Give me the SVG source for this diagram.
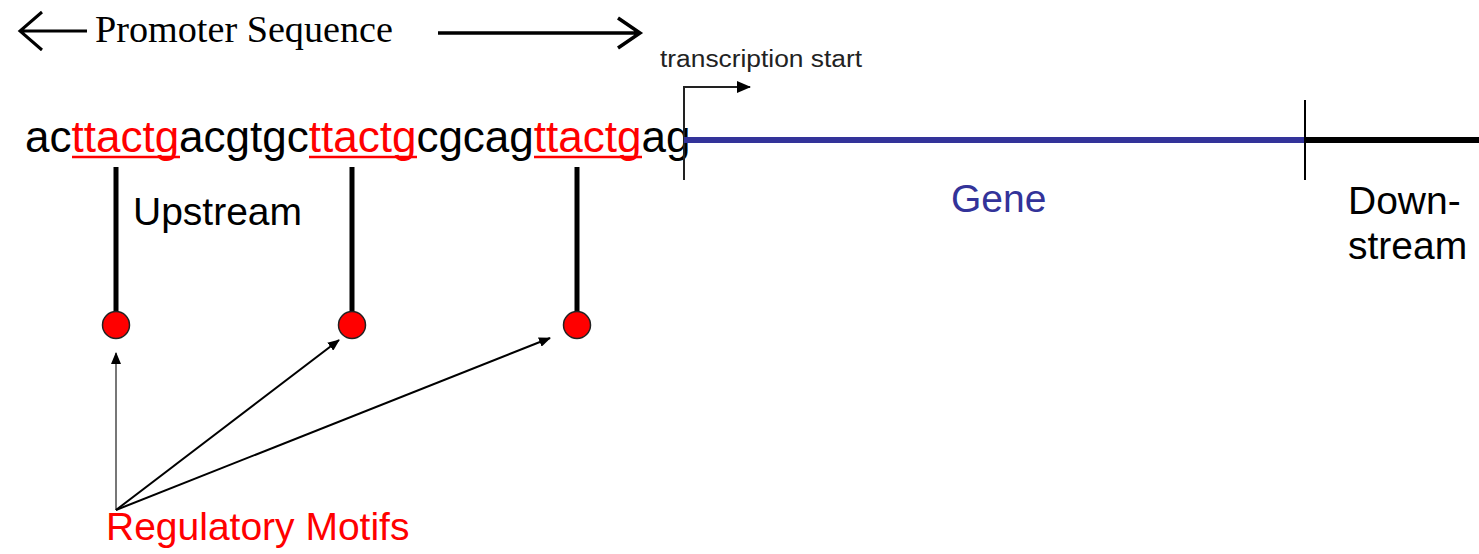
<svg xmlns="http://www.w3.org/2000/svg" width="1479" height="554" viewBox="0 0 1479 554">
<style>
.sans{font-family:"Liberation Sans",Arial,sans-serif}
.serif{font-family:"Liberation Serif","Times New Roman",serif}
.red{fill:#ff0000}
.stem{stroke:#000;stroke-width:5}
.motif{fill:#ff0000;stroke:#222;stroke-width:1.5}
.conn{stroke:#000;stroke-width:2;fill:none}
</style>
<defs>
<marker id="tri" markerWidth="12" markerHeight="10" refX="11" refY="5" orient="auto" markerUnits="userSpaceOnUse">
<path d="M0,0 L12,5 L0,10 Z" fill="#000"/>
</marker>
<marker id="tri2" markerWidth="14" markerHeight="12" refX="13" refY="6" orient="auto" markerUnits="userSpaceOnUse">
<path d="M0,0 L14,6 L0,12 Z" fill="#000"/>
</marker>
</defs>
<rect width="1479" height="554" fill="#fff"/>

<g id="promoter-label">
<path d="M20,31 H87 M42,12 L20,31 L42,50" fill="none" stroke="#000" stroke-width="3"/>
<text x="95" y="42" class="serif" font-size="38" textLength="298" lengthAdjust="spacingAndGlyphs">Promoter Sequence</text>
<path d="M438,33 H639 M618,18 L640,33 L618,48" fill="none" stroke="#000" stroke-width="3.5"/>
</g>

<g id="sequence">
<text x="25" y="152" class="sans" font-size="44">ac<tspan class="red">ttactg</tspan>acgtgc<tspan class="red">ttactg</tspan>cgcag<tspan class="red">ttactg</tspan>ag</text>
<line x1="72" y1="157" x2="180" y2="157" stroke="#ff0000" stroke-width="2.5"/>
<line x1="309" y1="157" x2="417" y2="157" stroke="#ff0000" stroke-width="2.5"/>
<line x1="534" y1="157" x2="642" y2="157" stroke="#ff0000" stroke-width="2.5"/>
</g>

<g id="upstream">
<text x="133" y="225" class="sans" font-size="39">Upstream</text>
</g>

<g id="motif1">
<line x1="116" y1="167" x2="116" y2="315" class="stem"/>
<circle cx="116" cy="325" r="13.5" class="motif"/>
</g>
<g id="motif2">
<line x1="352" y1="167" x2="352" y2="315" class="stem"/>
<circle cx="352" cy="325" r="13.5" class="motif"/>
</g>
<g id="motif3">
<line x1="577" y1="167" x2="577" y2="315" class="stem"/>
<circle cx="577" cy="325" r="13.5" class="motif"/>
</g>

<g id="transcription-start">
<text x="660" y="67" class="sans" font-size="23" fill="#222" textLength="202" lengthAdjust="spacingAndGlyphs">transcription start</text>
<path d="M684,180 V87 H750" fill="none" stroke="#222" stroke-width="2" marker-end="url(#tri2)"/>
</g>

<g id="gene">
<line x1="684" y1="140" x2="1305" y2="140" stroke="#333399" stroke-width="6"/>
<line x1="1305" y1="100" x2="1305" y2="180" stroke="#000" stroke-width="2"/>
<text x="951" y="212" class="sans" font-size="39" fill="#333399">Gene</text>
</g>

<g id="downstream">
<line x1="1305" y1="140" x2="1479" y2="140" stroke="#000" stroke-width="6"/>
<text x="1348" y="214" class="sans" font-size="39">Down-</text>
<text x="1348" y="259" class="sans" font-size="39">stream</text>
</g>

<g id="connectors">
<line x1="116" y1="510" x2="116" y2="353" stroke="#777" stroke-width="2" marker-end="url(#tri)"/>
<line x1="116" y1="510" x2="339" y2="340" class="conn" marker-end="url(#tri)"/>
<line x1="116" y1="510" x2="550" y2="338" class="conn" marker-end="url(#tri)"/>
</g>

<g id="regulatory-motifs">
<text x="106" y="540" class="sans red" font-size="39">Regulatory Motifs</text>
</g>
</svg>
